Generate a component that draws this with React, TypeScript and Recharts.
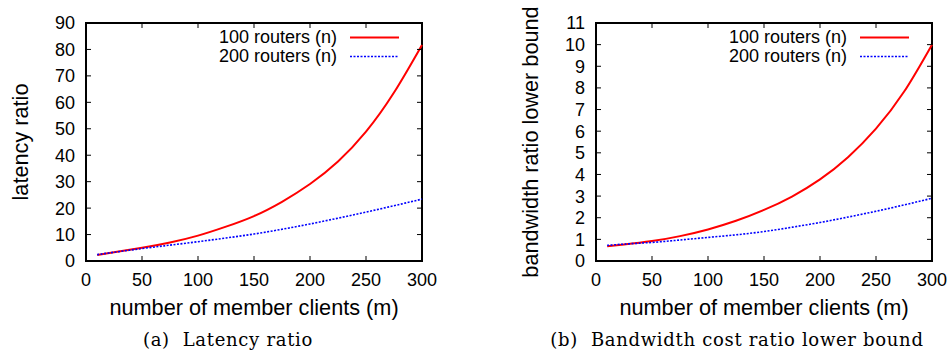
import { LineChart, Line, XAxis, YAxis, Legend, ReferenceArea, Label } from 'recharts';

// member clients (m)
const clients = [10, 25, 50, 75, 100, 125, 150, 175, 200, 225, 250, 275, 300];

// (a) latency ratio
const latency100 = [2.3, 3.3, 5.0, 7.0, 9.6, 13.0, 17.0, 22.4, 29.1, 37.6, 48.9, 63.7, 81.7];
const latency200 = [2.4, 3.3, 4.7, 6.0, 7.3, 8.7, 10.2, 12.0, 14.0, 16.2, 18.5, 20.9, 23.4];

// (b) bandwidth ratio lower bound
const bandwidth100 = [0.68, 0.76, 0.92, 1.15, 1.46, 1.86, 2.36, 2.98, 3.77, 4.8, 6.12, 7.82, 10.0];
const bandwidth200 = [0.72, 0.78, 0.86, 0.97, 1.09, 1.21, 1.36, 1.56, 1.78, 2.03, 2.3, 2.59, 2.9];

const xTicks = [0, 50, 100, 150, 200, 250, 300];
const latencyTicks = [0, 10, 20, 30, 40, 50, 60, 70, 80, 90];
const bandwidthTicks = [0, 1, 2, 3, 4, 5, 6, 7, 8, 9, 10, 11];

const seriesNames = ['100 routers (n)', '200 routers (n)'];

const SANS = '"Liberation Sans", Arial, Helvetica, sans-serif';
const PLOT_TOP = 23;
const PLOT_BOTTOM = 261;
const TICK_LEN = 5;

interface PanelProps {
    width: number;
    height: number;
    plotLeft: number;
    plotRight: number;
    yMax: number;
    yTicks: number[];
    a: number[];
    b: number[];
    yLabel: string;
    yLabelX: number;
}

function LegendBox() {
    return (
        <div style={{ fontFamily: SANS, fontSize: 18, color: '#000' }}>
            {seriesNames.map((name, i) => (
                <div key={name} style={{ display: 'flex', justifyContent: 'flex-end', alignItems: 'center', height: 19 }}>
                    <span style={{ lineHeight: '19px', whiteSpace: 'nowrap' }}>{name}</span>
                    <svg width={62} height={19}>
                        <line x1={13} x2={62} y1={9.5} y2={9.5}
                            stroke={i === 0 ? '#ff0000' : '#0000ff'}
                            strokeWidth={i === 0 ? 2 : 1.6}
                            strokeDasharray={i === 0 ? undefined : '2 1.5'} />
                    </svg>
                </div>
            ))}
        </div>
    );
}

function Panel({ width, height, plotLeft, plotRight, yMax, yTicks, a, b, yLabel, yLabelX }: PanelProps) {
    const data = clients.map((m, i) => ({ m, a: a[i], b: b[i] }));
    const xAxisHeight = 30;
    const midX = (plotLeft + plotRight) / 2;
    const midY = (PLOT_TOP + PLOT_BOTTOM) / 2;

    const XTick = (props: any) => {
        const { x, y, payload } = props;
        return (
            <g>
                <line x1={x} x2={x} y1={PLOT_BOTTOM} y2={PLOT_BOTTOM - TICK_LEN} stroke="#000" strokeWidth={1} />
                <line x1={x} x2={x} y1={PLOT_TOP} y2={PLOT_TOP + TICK_LEN} stroke="#000" strokeWidth={1} />
                <text x={x} y={y} dy="0.71em" textAnchor="middle" fill="#000" fontSize={18} fontFamily={SANS}>
                    {payload.value}
                </text>
            </g>
        );
    };

    const YTick = (props: any) => {
        const { x, y, payload } = props;
        return (
            <g>
                <line x1={plotLeft} x2={plotLeft + TICK_LEN} y1={y} y2={y} stroke="#000" strokeWidth={1} />
                <line x1={plotRight} x2={plotRight - TICK_LEN} y1={y} y2={y} stroke="#000" strokeWidth={1} />
                <text x={x} y={y} dy="0.36em" textAnchor="end" fill="#000" fontSize={18} fontFamily={SANS}>
                    {payload.value}
                </text>
            </g>
        );
    };

    return (
        <LineChart
            width={width}
            height={height}
            data={data}
            margin={{ top: PLOT_TOP, right: width - plotRight, left: 0, bottom: height - PLOT_BOTTOM - xAxisHeight }}
        >
            <XAxis
                dataKey="m"
                type="number"
                domain={[0, 300]}
                ticks={xTicks}
                height={xAxisHeight}
                axisLine={false}
                tickLine={false}
                tickSize={0}
                tickMargin={12}
                tick={XTick}
                interval={0}
            >
                <Label
                    content={() => (
                        <text x={midX} y={315} textAnchor="middle" fill="#000" fontSize={21.7} fontFamily={SANS}>
                            number of member clients (m)
                        </text>
                    )}
                />
            </XAxis>
            <YAxis
                type="number"
                domain={[0, yMax]}
                ticks={yTicks}
                width={plotLeft}
                axisLine={false}
                tickLine={false}
                tickSize={0}
                tickMargin={11}
                tick={YTick}
                interval={0}
            >
                <Label
                    content={() => (
                        <text
                            x={yLabelX}
                            y={midY}
                            transform={`rotate(-90 ${yLabelX} ${midY})`}
                            textAnchor="middle"
                            dominantBaseline="central"
                            fill="#000"
                            fontSize={21.7}
                            fontFamily={SANS}
                        >
                            {yLabel}
                        </text>
                    )}
                />
            </YAxis>
            <ReferenceArea x1={0} x2={300} y1={0} y2={yMax} fill="none" stroke="#000" strokeWidth={2} ifOverflow="visible" />
            <Legend
                layout="vertical"
                align="center"
                verticalAlign="middle"
                wrapperStyle={{ top: 27.5, left: plotRight - 223, width: 200 }}
                content={() => <LegendBox />}
            />
            <Line
                dataKey="a"
                name={seriesNames[0]}
                type="natural"
                stroke="#ff0000"
                strokeWidth={2}
                dot={false}
                isAnimationActive={false}
            />
            <Line
                dataKey="b"
                name={seriesNames[1]}
                type="natural"
                stroke="#0000ff"
                strokeWidth={1.6}
                strokeDasharray="2 1.5"
                dot={false}
                isAnimationActive={false}
            />
        </LineChart>
    );
}

const captionStyle: React.CSSProperties = {
    position: 'absolute',
    top: 330,
    fontFamily: '"DejaVu Serif", "Liberation Serif", serif',
    fontSize: 18,
    lineHeight: '20px',
    letterSpacing: 0.7,
    color: '#000',
    whiteSpace: 'nowrap',
    transform: 'translateX(-50%)',
};

export default function App() {
    return (
        <div style={{ position: 'absolute', left: 0, top: 0, width: 952, height: 354, background: '#fff', overflow: 'hidden' }}>
            <div style={{ position: 'absolute', left: 0, top: 0 }}>
                <Panel
                    width={440}
                    height={325}
                    plotLeft={86}
                    plotRight={422}
                    yMax={90}
                    yTicks={latencyTicks}
                    a={latency100}
                    b={latency200}
                    yLabel="latency ratio"
                    yLabelX={20}
                />
            </div>
            <div style={{ position: 'absolute', left: 480, top: 0 }}>
                <Panel
                    width={472}
                    height={325}
                    plotLeft={116}
                    plotRight={452}
                    yMax={11}
                    yTicks={bandwidthTicks}
                    a={bandwidth100}
                    b={bandwidth200}
                    yLabel="bandwidth ratio lower bound"
                    yLabelX={50}
                />
            </div>
            <div style={{ ...captionStyle, left: 228 }}>(a)&nbsp;&nbsp;Latency ratio</div>
            <div style={{ ...captionStyle, left: 737 }}>(b)&nbsp;&nbsp;Bandwidth cost ratio lower bound</div>
        </div>
    );
}
